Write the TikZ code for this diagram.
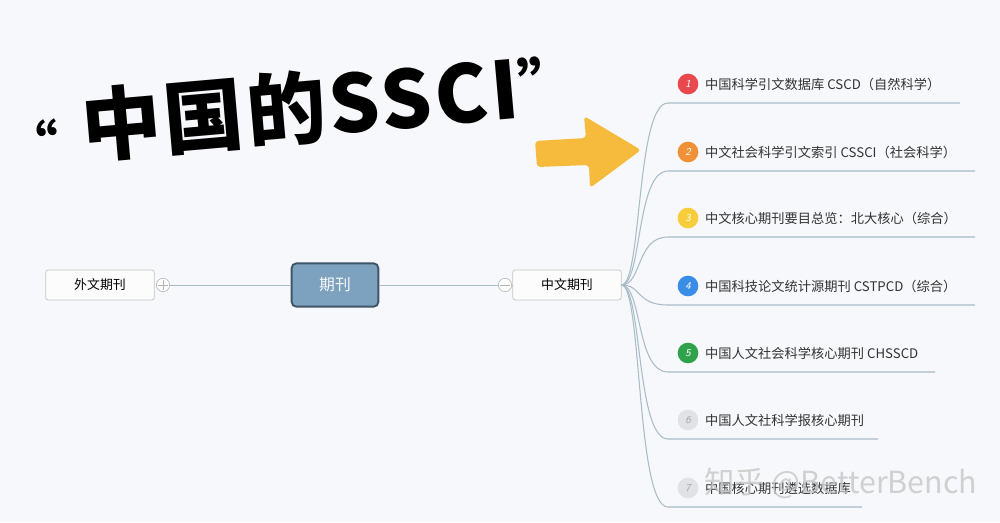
\documentclass[tikz,border=0pt]{standalone}
\usepackage{fontspec}
\usepackage{xcolor}
\usepackage{tikz}
\usetikzlibrary{arrows.meta,calc,positioning}
\newfontfamily\cjk{Noto Sans CJK SC}
\definecolor{bgcol}{HTML}{F7F8FB}
\definecolor{branchcol}{HTML}{A9BCC8}
\definecolor{rootfill}{HTML}{7DA2BF}
\definecolor{rootdraw}{HTML}{3E5566}
\definecolor{arrowcol}{HTML}{F6BA3C}
\definecolor{numA}{HTML}{E9484C}
\definecolor{numB}{HTML}{F09138}
\definecolor{numC}{HTML}{F7CD3C}
\definecolor{numD}{HTML}{3A8DE6}
\definecolor{numE}{HTML}{2FA24B}
\definecolor{numF}{HTML}{E2E2E4}
\tikzset{
  topicbox/.style={draw=gray!45, fill=white!60!bgcol, rounded corners=2pt, line width=0.6pt,
    minimum width=3.25cm, minimum height=0.9cm, font=\cjk\fontsize{11}{13}\selectfont},
  rootbox/.style={draw=rootdraw, fill=rootfill, rounded corners=4pt, line width=1.6pt,
    minimum width=2.6cm, minimum height=1.3cm, text=white!92!rootfill,
    font=\cjk\fontsize{13.5}{15}\selectfont},
  foldmark/.style={draw=gray!60, fill=white, circle, inner sep=0pt, minimum size=0.4cm, line width=0.5pt},
  numdot/.style={circle, inner sep=0pt, minimum size=0.62cm, font=\sffamily\itshape\fontsize{9}{9}\selectfont},
  itemtext/.style={anchor=west, inner sep=0pt, font=\cjk\fontsize{11.3}{13}\selectfont, text=black!80},
  branch/.style={draw=branchcol, line width=0.9pt}
}
\begin{document}
\begin{tikzpicture}[x=0.03cm, y=-0.03cm]
\fill[bgcol] (0,0) rectangle (1000,522);
\useasboundingbox (0,0) rectangle (1000,522);
% title and pointer
\node[font=\cjk\bfseries\fontsize{68}{70}\selectfont, rotate=5, inner sep=0pt] (title) at (292,108)
   {\raisebox{-0.05em}{\fontsize{44}{44}\selectfont“}\hspace{0.3em}{\addfontfeature{LetterSpace=4}中国的SSCI}\raisebox{0.12em}{\fontsize{50}{50}\selectfont”}};
\fill[arrowcol, rounded corners=3pt] (535,141) -- (586,138) -- (584,116) -- (641,150)
   -- (590,188) -- (589,165) -- (537,167) -- cycle;
% central topics
\node[rootbox] (root) at (335,285) {期刊};
\node[topicbox] (wai) at (100,285) {外文期刊};
\node[topicbox] (zhong) at (567,285) {中文期刊};
\node[foldmark] (plus) at (163,285) {};
\node[foldmark] (minus) at (505,285) {};
\draw[gray!60, line width=0.5pt] ($(plus.west)+(2,0)$) -- ($(plus.east)+(-2,0)$)
   ($(plus.north)+(0,2)$) -- ($(plus.south)+(0,-2)$);
\draw[gray!60, line width=0.5pt] ($(minus.west)+(2,0)$) -- ($(minus.east)+(-2,0)$);
\draw[branch, line width=0.7pt] (plus) -- (root);
\draw[branch, line width=0.7pt] (root) -- (minus);
\draw[branch, line width=0.7pt] (minus) -- (zhong);
% journal list
\foreach \n/\y/\e/\c/\txt in {
  1/84/960/numA/{中国科学引文数据库 CSCD（自然科学）},
  2/152/975/numB/{中文社会科学引文索引 CSSCI（社会科学）},
  3/218/975/numC/{中文核心期刊要目总览：北大核心（综合）},
  4/286/975/numD/{中国科技论文统计源期刊 CSTPCD（综合）},
  5/353/935/numE/{中国人文社会科学核心期刊 CHSSCD},
  6/420/878/numF/{中国人文社科学报核心期刊},
  7/488/862/numF/{中国核心期刊遴选数据库}} {
  \coordinate (s\n) at (668,\y+19);
  \coordinate (e\n) at (\e,\y+19);
  \draw[branch] (zhong.east) .. controls (642,285) and (636,\y+19) .. (s\n) -- (e\n);
  \ifnum\n>5
    \node[numdot, fill=\c, text=gray!70] (d\n) at (688,\y) {\n};
  \else
    \node[numdot, fill=\c, text=white] (d\n) at (688,\y) {\n};
  \fi
  \node[itemtext] (t\n) at (705,\y) {\txt};
}
% watermark
\node[anchor=west, text=gray!45, opacity=0.8, font=\cjk\fontsize{26}{28}\selectfont] (mark) at (700,483) {知乎 @BetterBench};
\end{tikzpicture}
\end{document}
